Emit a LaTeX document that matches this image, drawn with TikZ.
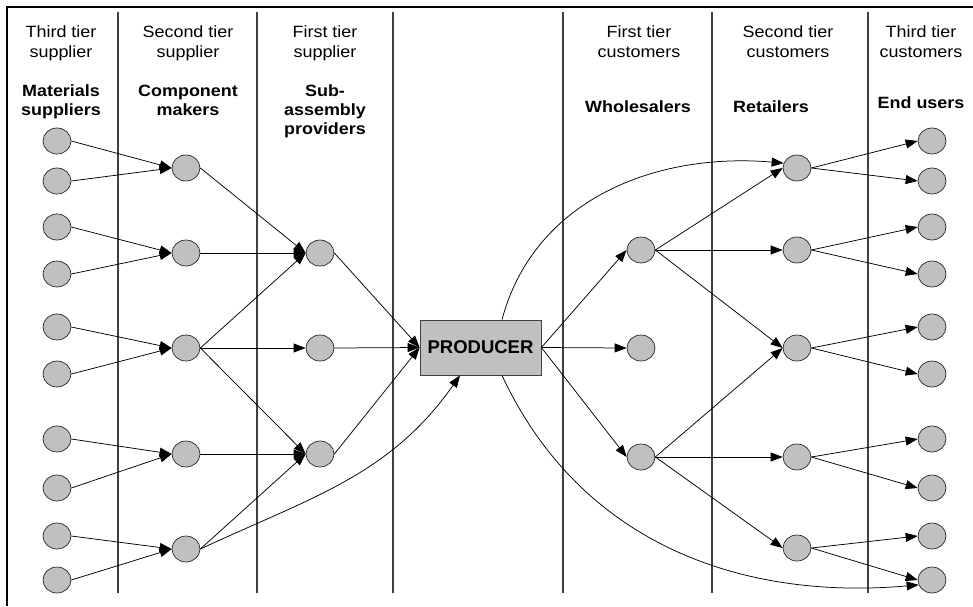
\documentclass[tikz,border=0pt]{standalone}
\usepackage{fontspec}
\setmainfont{Liberation Sans}
\newfontfamily\hdrfont[FakeStretch=1.1]{Liberation Sans}
\usetikzlibrary{arrows.meta,shapes.geometric}
\definecolor{gray75}{RGB}{192,192,192}
\begin{document}
\begin{tikzpicture}[x=1pt,y=1pt,
  dot/.style={ellipse, draw=black!85, line width=0.7pt, fill=gray75, minimum width=28pt, minimum height=26pt, inner sep=0pt},
  conn/.style={-{Triangle[length=12pt,width=9pt]}, line width=0.75pt},
  divider/.style={line width=1.6pt, draw=black!75},
  hdr/.style={align=center, font=\hdrfont\fontsize{16.3}{19.5}\selectfont, inner sep=0pt, anchor=base},
  hdrb/.style={hdr, font=\hdrfont\bfseries\fontsize{16.3}{19}\selectfont}]
\useasboundingbox (0,0) rectangle (973,-606);
% frame
\draw[line width=2pt] (7,-606) -- (7,-7) -- (973,-7);
% dividers
\foreach \x in {118,257,393,563,712,868}
  \draw[divider] (\x,-12) -- (\x,-593);
% headers
\node[hdr] (h1) at (61,-57) {Third tier\\supplier};
\node[hdr] (h2) at (188,-57) {Second tier\\supplier};
\node[hdr] (h3) at (325,-57) {First tier\\supplier};
\node[hdr] (h4) at (639,-57) {First tier\\customers};
\node[hdr] (h5) at (788,-57) {Second tier\\customers};
\node[hdr] (h6) at (921,-57) {Third tier\\customers};
\node[hdrb] (b1) at (61,-115) {Materials\\suppliers};
\node[hdrb] (b2) at (188,-115) {Component\\makers};
\node[hdrb] (b3) at (325,-134) {Sub-\\assembly\\providers};
\node[hdrb] (b4) at (638,-112) {Wholesalers};
\node[hdrb] (b5) at (771,-112) {Retailers};
\node[hdrb] (b6) at (921,-108) {End users};
% circles
\foreach \i/\y in {1/141,2/181,3/227,4/274,5/327,6/374,7/439,8/488,9/536,10/580}{
  \node[dot] (M\i) at (57,-\y) {};
  \node[dot] (E\i) at (932,-\y) {};
}
\foreach \i/\y in {1/168,2/253,3/348,4/454,5/549}
  \node[dot] (C\i) at (186,-\y) {};
\foreach \i/\y in {1/253,2/348,3/454}
  \node[dot] (S\i) at (320,-\y) {};
\foreach \i/\y in {1/250,2/348,3/457}
  \node[dot] (W\i) at (641,-\y) {};
\foreach \i/\y in {1/168,2/250,3/348,4/457,5/548}
  \node[dot] (R\i) at (797,-\y) {};
% producer
\node[draw=black!75, fill=gray75, line width=0.8pt, minimum width=121pt, minimum height=55pt, inner sep=0pt, font=\bfseries\fontsize{18.5}{20}\selectfont] (P) at (480.5,-347.5) {PRODUCER};
% left edges
\foreach \a/\b in {M1/C1,M2/C1,M3/C2,M4/C2,M5/C3,M6/C3,M7/C4,M8/C4,M9/C5,M10/C5,
                   C1/S1,C2/S1,C3/S1,C3/S2,C3/S3,C4/S3,C5/S3,S1/P,S2/P,S3/P}
  \draw[conn] (\a.east) -- (\b.west);
% right edges
\foreach \a/\b in {P/W1,P/W2,P/W3,W1/R1,W1/R2,W1/R3,W3/R3,W3/R4,W3/R5,
                   R1/E1,R1/E2,R2/E3,R2/E4,R3/E5,R3/E6,R4/E7,R4/E8,R5/E9,R5/E10}
  \draw[conn] (\a.east) -- (\b.west);
% curved edges
\draw[conn] (C5.east) to[out=25,in=-125] ([xshift=-20.5pt]P.south);
\draw[conn] ([xshift=21.5pt]P.north) to[out=75,in=175] (R1.160);
\draw[conn] ([xshift=21.5pt]P.south) to[out=-65,in=185] (E10.200);
\end{tikzpicture}
\end{document}
